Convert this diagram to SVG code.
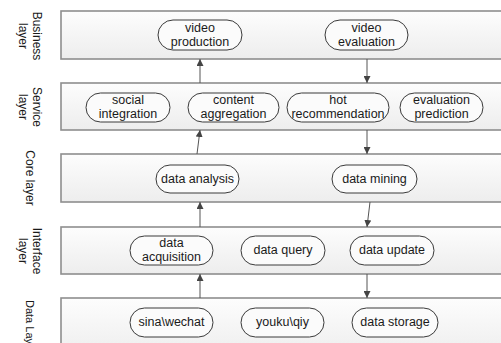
<svg xmlns="http://www.w3.org/2000/svg" width="501" height="343" viewBox="0 0 501 343">
  <style>
    .layer { fill: url(#layerFill); stroke: #8e8e8e; stroke-width: 1.6; }
    .node { fill: #fbfbfb; stroke: #3a3a3a; stroke-width: 1; }
    text { font-family: "Liberation Sans", Arial, sans-serif; font-size: 12.5px; fill: #1a1a1a; text-anchor: middle; }
    .side { font-size: 12px; }
    .conn { stroke: #555; stroke-width: 1; fill: none; marker-end: url(#arrow); }
  </style>
  <defs>
    <linearGradient id="layerFill" x1="0" y1="0" x2="0" y2="1">
      <stop offset="0" stop-color="#fdfdfd"/>
      <stop offset="1" stop-color="#ededed"/>
    </linearGradient>
    <marker id="arrow" viewBox="0 0 8 8" refX="8" refY="4" markerWidth="7" markerHeight="7" markerUnits="userSpaceOnUse" orient="auto">
      <path d="M0,0 L8,4 L0,8 z" fill="#444"/>
    </marker>
  </defs>

  <!-- layer bands -->
  <g id="business-layer">
    <rect class="layer" x="61" y="11" width="460" height="48"/>
    <text class="side" transform="translate(37,36) rotate(90)" dy="4">Business</text>
    <text class="side" transform="translate(23,36) rotate(90)" dy="4">layer</text>
  </g>
  <g id="service-layer">
    <rect class="layer" x="61" y="83" width="460" height="47"/>
    <text class="side" transform="translate(37,107) rotate(90)" dy="4">Service</text>
    <text class="side" transform="translate(23,107) rotate(90)" dy="4">layer</text>
  </g>
  <g id="core-layer">
    <rect class="layer" x="61" y="154" width="460" height="48"/>
    <text class="side" transform="translate(30,178) rotate(90)" dy="4">Core layer</text>
  </g>
  <g id="interface-layer">
    <rect class="layer" x="61" y="227" width="460" height="47"/>
    <text class="side" transform="translate(37,251) rotate(90)" dy="4">Interface</text>
    <text class="side" transform="translate(23,251) rotate(90)" dy="4">layer</text>
  </g>
  <g id="data-layer">
    <rect class="layer" x="61" y="298" width="460" height="60"/>
    <text class="side" transform="translate(30,300) rotate(90)" dy="4" style="text-anchor:start;font-size:11px">Data Layer</text>
  </g>

  <!-- business nodes -->
  <g id="video-production">
    <rect class="node" x="158" y="20" width="84" height="30" rx="15"/>
    <text x="200" y="32">video</text>
    <text x="200" y="46">production</text>
  </g>
  <g id="video-evaluation">
    <rect class="node" x="325" y="20" width="83" height="30" rx="15"/>
    <text x="366.5" y="32">video</text>
    <text x="366.5" y="46">evaluation</text>
  </g>

  <!-- service nodes -->
  <g id="social-integration">
    <rect class="node" x="86" y="93" width="84" height="29" rx="14.5"/>
    <text x="128" y="104">social</text>
    <text x="128" y="118">integration</text>
  </g>
  <g id="content-aggregation">
    <rect class="node" x="188" y="93" width="91" height="29" rx="14.5"/>
    <text x="233.5" y="104">content</text>
    <text x="233.5" y="118">aggregation</text>
  </g>
  <g id="hot-recommendation">
    <rect class="node" x="287" y="93" width="102" height="29" rx="14.5"/>
    <text x="338" y="104">hot</text>
    <text x="338" y="118">recommendation</text>
  </g>
  <g id="evaluation-prediction">
    <rect class="node" x="400" y="93" width="83" height="29" rx="14.5"/>
    <text x="441.5" y="104">evaluation</text>
    <text x="441.5" y="118">prediction</text>
  </g>

  <!-- core nodes -->
  <g id="data-analysis">
    <rect class="node" x="156" y="165" width="83" height="28" rx="14"/>
    <text x="197.5" y="183">data analysis</text>
  </g>
  <g id="data-mining">
    <rect class="node" x="332" y="165" width="85" height="28" rx="14"/>
    <text x="374.5" y="183">data mining</text>
  </g>

  <!-- interface nodes -->
  <g id="data-acquisition">
    <rect class="node" x="130" y="236" width="83" height="29" rx="14.5"/>
    <text x="171.5" y="247">data</text>
    <text x="171.5" y="261">acquisition</text>
  </g>
  <g id="data-query">
    <rect class="node" x="241" y="236" width="84" height="29" rx="14.5"/>
    <text x="283" y="254">data query</text>
  </g>
  <g id="data-update">
    <rect class="node" x="350" y="236" width="84" height="29" rx="14.5"/>
    <text x="392" y="254">data update</text>
  </g>

  <!-- data nodes -->
  <g id="sina-wechat">
    <rect class="node" x="130" y="308" width="83" height="29" rx="14.5"/>
    <text x="171.5" y="326">sina\wechat</text>
  </g>
  <g id="youku-qiy">
    <rect class="node" x="241" y="308" width="83" height="29" rx="14.5"/>
    <text x="282.5" y="326">youku\qiy</text>
  </g>
  <g id="data-storage">
    <rect class="node" x="352" y="308" width="86" height="29" rx="14.5"/>
    <text x="395" y="326">data storage</text>
  </g>

  <!-- connectors between layers -->
  <g id="connectors">
    <line class="conn" x1="200" y1="83" x2="200" y2="59"/>
    <line class="conn" x1="367" y1="59" x2="367" y2="83"/>
    <line class="conn" x1="197" y1="154" x2="200" y2="130"/>
    <line class="conn" x1="367" y1="130" x2="367" y2="154"/>
    <line class="conn" x1="200" y1="227" x2="200" y2="202"/>
    <line class="conn" x1="370" y1="202" x2="367" y2="227"/>
    <line class="conn" x1="200" y1="298" x2="200" y2="274"/>
    <line class="conn" x1="367" y1="274" x2="367" y2="298"/>
  </g>
</svg>
